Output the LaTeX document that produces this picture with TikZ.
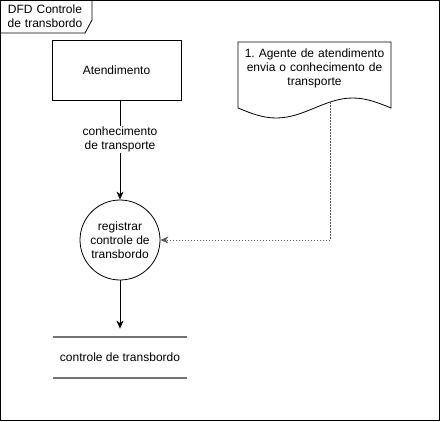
\documentclass[tikz,border=0pt]{standalone}
\usepackage{fontspec}
\setmainfont{Liberation Sans}
\usetikzlibrary{arrows.meta,positioning}
\frenchspacing

\tikzset{
  every node/.style={font=\fontsize{12}{14}\selectfont, align=center},
  entity/.style={draw, minimum width=129pt, minimum height=60pt, inner sep=0pt},
  process/.style={draw, circle, minimum size=80pt, inner sep=0pt},
  storeline/.style={draw=black!55, line width=2pt},
  flow/.style={-{Stealth[length=8pt,width=7pt,inset=2.5pt]}},
  trigger/.style={flow, dash pattern=on 1.5pt off 1.5pt, draw=black!65}
}

\begin{document}
\begin{tikzpicture}[x=1pt, y=-1pt, line width=0.8pt]
\useasboundingbox (0,0) rectangle (441,421);
% frame with title tab
\draw[line width=1pt] (0.5,0.5) rectangle (439.5,420);
\draw (0.5,33) -- (85,33) -- (92,20) -- (92,0.5);
\node[text width=90pt] (title) at (45,16.5) {DFD Controle\\de transbordo};

\node[entity] (atend) at (116.5,70) {Atendimento};
\node[process] (reg) at (120,240) {registrar\\controle de\\transbordo};
\node[minimum width=134pt, minimum height=41pt] (store) at (120,357.5) {controle de transbordo};
\draw[storeline] (store.north west) -- (store.north east);
\draw[storeline] (store.south west) -- (store.south east);

% document
\node[text width=150pt] (agente) at (314.5,68.5) {1. Agente de atendimento\\envia o conhecimento de\\transporte};
\draw (238,108) -- (238,42) -- (391,42) -- (391,108) sin (352.75,98) cos (314.5,108) sin (276.25,118) cos (238,108) -- cycle;
\coordinate (docout) at (330,102);

\draw[flow] (atend.south -| reg.north) -- node[pos=0.395, fill=white, inner sep=1pt] (flowlbl) {conhecimento\\de transporte} (reg.north);
\draw[flow, shorten >=8pt] (reg) -- (store.north);
\draw[trigger] (docout) |- (reg);
\end{tikzpicture}
\end{document}
